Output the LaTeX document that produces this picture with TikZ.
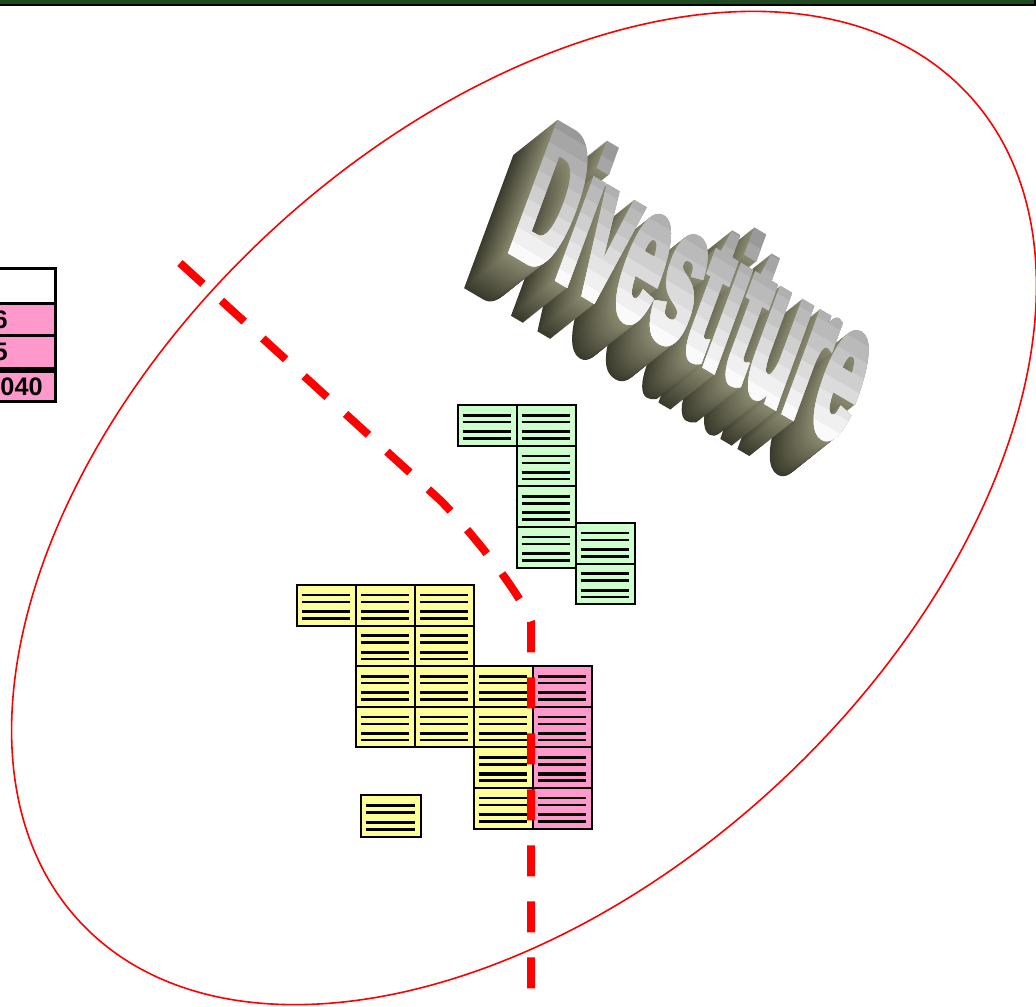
\documentclass[tikz,border=0pt]{standalone}
\usepackage{fontspec}
\setmainfont{Liberation Sans}
\newfontfamily\wordart{Liberation Sans Bold}[FakeBold=5]
\usetikzlibrary{calc}
\definecolor{ypale}{HTML}{FFFF99}
\definecolor{gpale}{HTML}{CCFFCC}
\definecolor{ppink}{HTML}{FF99CC}
\definecolor{bargreen}{HTML}{1F4A1F}
\definecolor{olivelight}{HTML}{8A8A70}
\definecolor{olivedark}{HTML}{3A3A2C}
\begin{document}
\begin{tikzpicture}[x=0.75pt,y=-0.75pt,
  blk/.style={draw=black, line width=1.5pt, minimum width=44.25pt, minimum height=30.45pt,
    inner sep=0pt, outer sep=0pt,
    path picture={
      \foreach \f/\w in {0.25/2.0,0.42/1.8,0.655/2.3,0.82/2.0}
        \draw[line width=\w pt]
          ($(path picture bounding box.north west)!\f!(path picture bounding box.south west)+(4.5,0)$) --
          ($(path picture bounding box.north east)!\f!(path picture bounding box.south east)+(-6.5,0)$);
    }},
  yb/.style={blk, fill=ypale},
  gb/.style={blk, fill=gpale},
  pb/.style={blk, fill=ppink},
  cell/.style={draw=black, line width=2.25pt},
  num/.style={font=\bfseries\fontsize{19}{21}\selectfont, inner sep=0pt, anchor=east},
  wa/.style={transform shape, anchor=base west, inner sep=0pt, font=\wordart\fontsize{134}{134}\selectfont},
  dashline/.style={red, line width=6pt, dash pattern=on 23.25pt off 18.75pt},
  ring/.style={red, line width=1.2pt}
]
\useasboundingbox (0,0) rectangle (1036,1007);
\clip (0,0) rectangle (1036,1007);

% top bar
\fill[bargreen] (0,0) rectangle (1036,4.5);
\draw[line width=1.5pt] (0,5) -- (1035,5) -- (1035,0);

% left table
\fill[white] (-10,268.5) rectangle (55.5,303);
\fill[ppink] (-10,303) rectangle (55.5,335);
\fill[ppink] (-10,335) rectangle (55.5,368.5);
\fill[ppink] (-10,371.5) rectangle (55.5,401.5);
\draw[cell] (-10,268.5) rectangle (55.5,303);
\draw[cell] (-10,303) rectangle (55.5,335);
\draw[cell] (-10,335) rectangle (55.5,368.5);
\draw[cell] (-10,371.5) rectangle (55.5,401.5);
\node[num] (t1) at (8,319.5) {6};
\node[num] (t2) at (8,351.5) {5};
\node[num] (t3) at (43,386.5) {040};

% ellipse
\draw[ring, rotate around={43:(524,508)}] (524,508) ellipse [x radius=607, y radius=375];

% Divestiture word art: extrusion
\foreach \k in {44,43,...,1} {
  \pgfmathtruncatemacro\pc{100*\k/44}
  \begin{scope}[shift={(507-44*\k/44, 247+35*\k/44)}, cm={0.362,-0.213,0.374,1.013,(0,0)}]
    \node[wa, text=olivedark!\pc!olivelight] (ext\k) at (0,0) {Divestiture};
  \end{scope}
}
% front face with graded bands
\begin{scope}[shift={(507,247)}, cm={0.362,-0.213,0.374,1.013,(0,0)}]
  \node[wa, text=black!40] (title) at (0,0) {Divestiture};
  \foreach \i in {1,...,9} {
    \pgfmathtruncatemacro\bp{40-4.2*\i}
    \begin{scope}
      \clip (-20pt,-40pt) rectangle (800pt,{(100-10.5*\i)*1pt});
      \node[wa, text=black!\bp] (band\i) at (0,0) {Divestiture};
    \end{scope}
  }
\end{scope}

% green blocks
\node[gb] (g1) at (487.5,425.5) {};
\node[gb] (g2) at (546.5,425.5) {};
\node[gb] (g3) at (546.5,466) {};
\node[gb] (g4) at (546.5,506.6) {};
\node[gb] (g5) at (546.5,547.2) {};
\node[gb] (g6) at (605.5,543.3) {};
\node[gb] (g7) at (605.5,583.9) {};

% yellow blocks
\node[yb] (ya) at (326.5,605.3) {};
\node[yb] (yb1) at (385.5,605.3) {};
\node[yb] (yc) at (444.5,605.3) {};
\node[yb] (yd) at (385.5,645.9) {};
\node[yb] (ye) at (444.5,645.9) {};
\node[yb] (yf) at (385.5,686.5) {};
\node[yb] (yg) at (444.5,686.5) {};
\node[yb] (yh) at (503.5,686.5) {};
\node[yb] (yi) at (385.5,727.1) {};
\node[yb] (yj) at (444.5,727.1) {};
\node[yb] (yk) at (503.5,727.1) {};
\node[yb] (yl) at (503.5,767.7) {};
\node[yb] (ym) at (503.5,808.3) {};
\node[yb, minimum width=45pt, minimum height=31.5pt] (ys) at (391,816) {};

% pink blocks
\node[pb] (pa) at (562.5,686.5) {};
\node[pb] (pb1) at (562.5,727.1) {};
\node[pb] (pc) at (562.5,767.7) {};
\node[pb] (pd) at (562.5,808.3) {};

% dashed dividing line
\draw[dashline] (180,263) -- (440,500) .. controls (470,530) and (522,595) .. (531,622) -- (531,990);
\end{tikzpicture}
\end{document}
